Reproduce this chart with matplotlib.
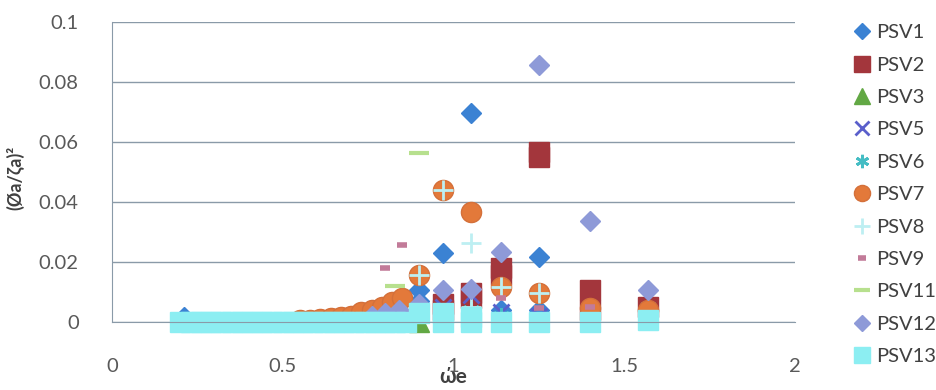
import matplotlib
matplotlib.use("Agg")
import matplotlib.pyplot as plt


# -------------------------------------
# DATA  (omega_e, (phi_a / zeta_a)^2)
# -------------------------------------
psv1_x = [0.21, 0.90, 0.90, 0.97, 0.97, 1.05, 1.05, 1.14, 1.25, 1.25, 1.40, 1.57]
psv1_y = [0.0015, 0.0107, 0.007, 0.023, 0.008, 0.0697, 0.010, 0.004, 0.0217, 0.004, 0.002, 0.002]

psv2_x = [0.97, 0.97, 1.05, 1.05, 1.14, 1.14, 1.25, 1.25, 1.40, 1.40, 1.57]
psv2_y = [0.006, 0.004, 0.0095, 0.008, 0.018, 0.0157, 0.0565, 0.055, 0.0107, 0.004, 0.005]

psv3_x = [0.90]
psv3_y = [0.0]

psv5_x = [0.97, 1.05, 1.14, 1.25]
psv5_y = [0.005, 0.009, 0.0033, 0.002]

psv6_x = [1.05, 1.14, 1.40, 1.57]
psv6_y = [0.004, 0.002, 0.003, 0.005]

psv7_x = [0.55, 0.58, 0.61, 0.64, 0.67, 0.70, 0.73, 0.76, 0.79, 0.82, 0.85,
          0.90, 0.97, 1.05, 1.14, 1.25, 1.40, 1.57]
psv7_y = [0.0007, 0.0008, 0.001, 0.0012, 0.0015, 0.002, 0.0033, 0.004, 0.005, 0.0065, 0.008,
          0.0157, 0.044, 0.0367, 0.0117, 0.0097, 0.0045, 0.004]

psv8_x = [0.90, 0.97, 1.05, 1.05, 1.14, 1.25]
psv8_y = [0.0157, 0.044, 0.0263, 0.005, 0.0117, 0.0097]

psv9_x = [0.80, 0.85, 1.14, 1.25, 1.40]
psv9_y = [0.018, 0.0257, 0.008, 0.0047, 0.005]

psv11_x = [0.78, 0.83, 0.90]
psv11_y = [0.003, 0.012, 0.0563]

psv12_x = [0.76, 0.80, 0.84, 0.90, 0.97, 1.05, 1.14, 1.25, 1.40, 1.57]
psv12_y = [0.002, 0.003, 0.004, 0.006, 0.0107, 0.011, 0.0233, 0.0857, 0.0337, 0.0107]

psv13_x = [0.20, 0.23, 0.26, 0.29, 0.32, 0.35, 0.38, 0.41, 0.44, 0.47, 0.50, 0.53,
           0.56, 0.59, 0.62, 0.65, 0.68, 0.71, 0.74, 0.77, 0.80, 0.83, 0.86,
           0.90, 0.97, 0.97, 1.05, 1.05, 1.14, 1.25, 1.40, 1.57]
psv13_y = [0.0, 0.0, 0.0, 0.0, 0.0, 0.0, 0.0, 0.0, 0.0, 0.0, 0.0, 0.0,
           0.0, 0.0, 0.0, 0.0, 0.0, 0.0, 0.0, 0.0, 0.0, 0.0, 0.0,
           0.003, 0.0, 0.003, 0.0, 0.0015, 0.0, 0.0, 0.0, 0.0005]

x_ticks = [0, 0.5, 1, 1.5, 2]
x_tick_labels = ["0", "0.5", "1", "1.5", "2"]
y_ticks = [0, 0.02, 0.04, 0.06, 0.08, 0.1]
y_tick_labels = ["0", "0.02", "0.04", "0.06", "0.08", "0.1"]


# -------------------------------------
# STYLE PER SERIES
# -------------------------------------
series = [
    ("PSV1", psv1_x, psv1_y, dict(marker="D", ms=10, color="#3B82D3", mec="#3B82D3")),
    ("PSV2", psv2_x, psv2_y, dict(marker="s", ms=14, color="#A3363C", mec="#A3363C")),
    ("PSV3", psv3_x, psv3_y, dict(marker="^", ms=14, color="#62A844", mec="#62A844")),
    ("PSV5", psv5_x, psv5_y, dict(marker="x", ms=12, color="#5A5FCB", mew=2)),
    ("PSV6", psv6_x, psv6_y, dict(marker=(6, 2, 0), ms=12, color="#45BDC4", mew=2)),
    ("PSV7", psv7_x, psv7_y, dict(marker="o", ms=14.5, color="#E3793A", mec="#D4703A")),
    ("PSV8", psv8_x, psv8_y, dict(marker="+", ms=14, color="#BDEFF2", mew=2)),
    ("PSV9", psv9_x, psv9_y, dict(marker="_", ms=7, color="#C27B99", mew=4)),
    ("PSV11", psv11_x, psv11_y, dict(marker="_", ms=14, color="#B7E08E", mew=3)),
    ("PSV12", psv12_x, psv12_y, dict(marker="D", ms=10, color="#8E9AD8", mec="#8E9AD8")),
    ("PSV13", psv13_x, psv13_y, dict(marker="s", ms=14, color="#8CEEF2", mec="#8CEEF2")),
]

plt.rcParams["font.family"] = ["Lato", "DejaVu Sans"]

fig = plt.figure(figsize=(9.37, 3.90), dpi=100)
ax = fig.add_axes([0.1195, 0.1744, 0.7290, 0.7692])

for name, xs, ys, style in series:
    ax.plot(xs, ys, linestyle="none", label=name, clip_on=False, **style)

ax.set_xlim(0, 2)
ax.set_ylim(0, 0.1)

ax.set_xticks(x_ticks)
ax.set_xticklabels(x_tick_labels)
ax.set_yticks(y_ticks)
ax.set_yticklabels(y_tick_labels)

ax.tick_params(axis="both", length=0, labelsize=14.5, labelcolor="#595959")
ax.tick_params(axis="x", pad=26)
ax.tick_params(axis="y", pad=24)

ax.grid(axis="y", color="#8A9AA8", linewidth=1)
ax.set_axisbelow(True)

for side in ["top", "right"]:
    ax.spines[side].set_visible(False)
ax.spines["left"].set_color("#8A9AA8")
ax.spines["bottom"].set_color("#8A9AA8")

ax.set_xlabel("ώe", fontsize=15, fontweight="bold", color="#404040", labelpad=-6)
ax.set_ylabel("(Øa/ζa)²", fontsize=13, fontweight="bold", color="#404040", labelpad=-2)
ax.yaxis.set_label_coords(-0.128, 0.48)

fig.legend(
    loc="upper left",
    bbox_to_anchor=(832 / 937, 1 - 6 / 390),
    frameon=False,
    fontsize=14.5,
    labelcolor="#404040",
    handletextpad=0.1,
    handlelength=1.2,
    labelspacing=0.76,
    markerscale=0.8,
)

fig.savefig("out.png", dpi=100)
